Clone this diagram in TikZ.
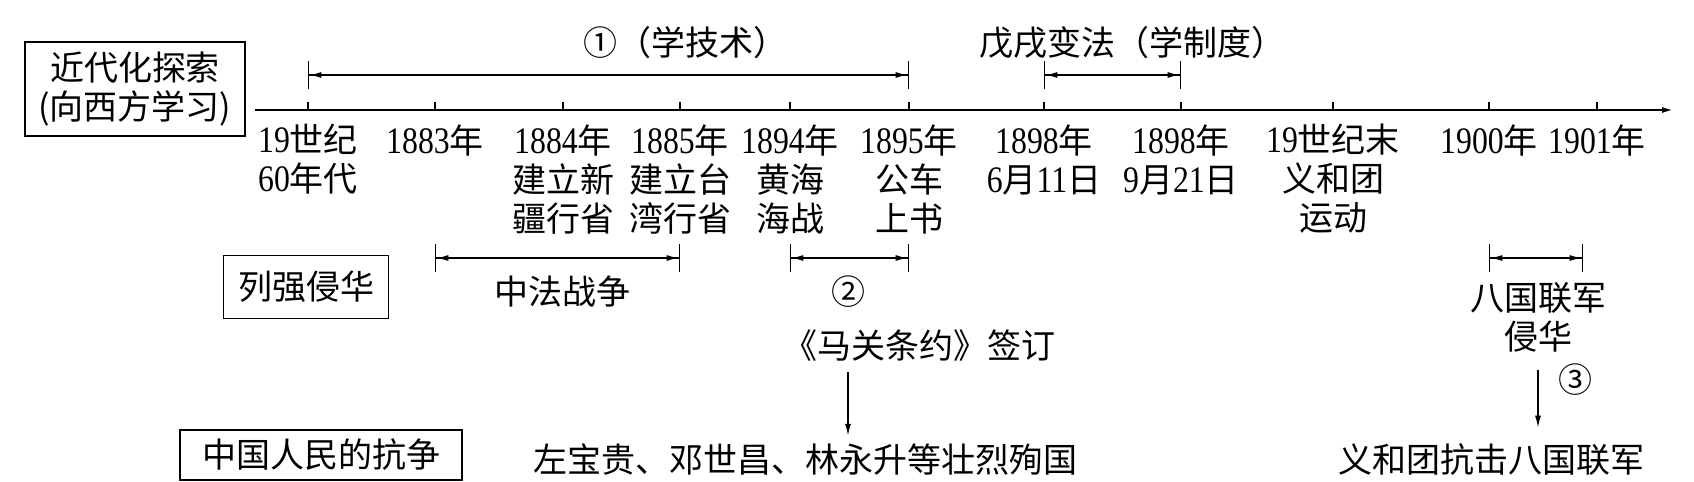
\documentclass[tikz,border=0pt]{standalone}
\usepackage{fontspec}
\setmainfont{Noto Sans CJK SC}
\newfontfamily\numfont{Liberation Serif}[Scale=1.1,FakeStretch=0.85]
\usetikzlibrary{arrows.meta,positioning}
\newcommand{\nm}[1]{{\numfont #1}}

\begin{document}
\begin{tikzpicture}[
    x=0.5pt, y=-0.5pt,
    >={Latex[length=6pt,width=3pt]},
    every node/.style={font=\fontsize{17}{19.5}\selectfont},
    lbl/.style={align=center, inner sep=0pt},
    box/.style={draw, line width=0.9pt, align=center, inner sep=0pt},
    span/.style={line width=0.7pt,
                 {Bar[width=14pt]Latex[length=6pt,width=3pt]}-{Latex[length=6pt,width=3pt]Bar[width=14pt]}},
    axis/.style={->, line width=1.1pt},
    tick/.style={line width=0.7pt},
    down/.style={->, line width=0.7pt}
  ]
  \useasboundingbox (0,0) rectangle (1694,482);

  % timeline
  \coordinate (ax0) at (255,110);
  \coordinate (ax1) at (1674,110);
  \draw[axis] (ax0) -- (ax1);
  \foreach \x [count=\i] in {308,435,563,680,790,909,1044,1181,1333,1489,1597}
    \coordinate (t\i) at (\x,110);
  \foreach \i in {1,...,11}
    \draw[tick] (t\i) -- ++(0,-8);

  % dates and events under the line
  \foreach \i/\txt in {1/{\nm{19}世纪\\\nm{60}年代},
                       2/{\nm{1883}年},
                       3/{\nm{1884}年\\建立新\\疆行省},
                       4/{\nm{1885}年\\建立台\\湾行省},
                       5/{\nm{1894}年\\黄海\\海战},
                       6/{\nm{1895}年\\公车\\上书},
                       7/{\nm{1898}年\\\nm{6}月\nm{11}日},
                       8/{\nm{1898}年\\\nm{9}月\nm{21}日},
                       9/{\nm{19}世纪末\\义和团\\运动},
                       10/{\nm{1900}年},
                       11/{\nm{1901}年}}
    \node[lbl, below=7pt of t\i] (d\i) {\txt};

  % row boxes
  \node[box, minimum width=110pt, minimum height=47pt] (explore) at (135,89) {近代化探索\\(向西方学习)};
  \node[box, minimum width=82.5pt, minimum height=31.5pt] (invade) at (306,287) {列强侵华};
  \node[box, minimum width=141pt, minimum height=25pt] (resist) at (321,455) {中国人民的抗争};

  % periods above the line
  \coordinate (rowA) at (0,75);
  \coordinate (rowB) at (0,258);
  \node[lbl] (jishu) at (685,43) {①（学技术）};
  \node[lbl] (bianfa) at (1132,43) {戊戌变法（学制度）};
  \draw[span] (t1 |- rowA) -- (t6 |- rowA);
  \draw[span] (t7 |- rowA) -- (t8 |- rowA);

  % periods below the line
  \coordinate (bgEnd) at (1583,258);
  \draw[span] (t2 |- rowB) -- (t4 |- rowB);
  \draw[span] (t5 |- rowB) -- (t6 |- rowB);
  \draw[span] (t10 |- rowB) -- (bgEnd);
  \node[lbl] (sinofr) at (562,292) {中法战争};
  \node[lbl] (n2) at (848,292) {②};
  \node[lbl] (maguan) at (919,346) {《马关条约》签订};
  \node[lbl] (martyr) at (805,460) {左宝贵、邓世昌、林永升等壮烈殉国};
  \node[lbl] (allied) at (1538,317) {八国联军\\侵华};
  \node[lbl] (n3) at (1575,380) {③};
  \node[lbl] (boxer) at (1491,460) {义和团抗击八国联军};

  \draw[down, shorten <=5pt, shorten >=4pt] (n2 |- maguan.south) -- (n2 |- martyr.north);
  \draw[down, shorten <=9pt, shorten >=8pt] (allied.south) -- (allied.south |- boxer.north);
\end{tikzpicture}
\end{document}
